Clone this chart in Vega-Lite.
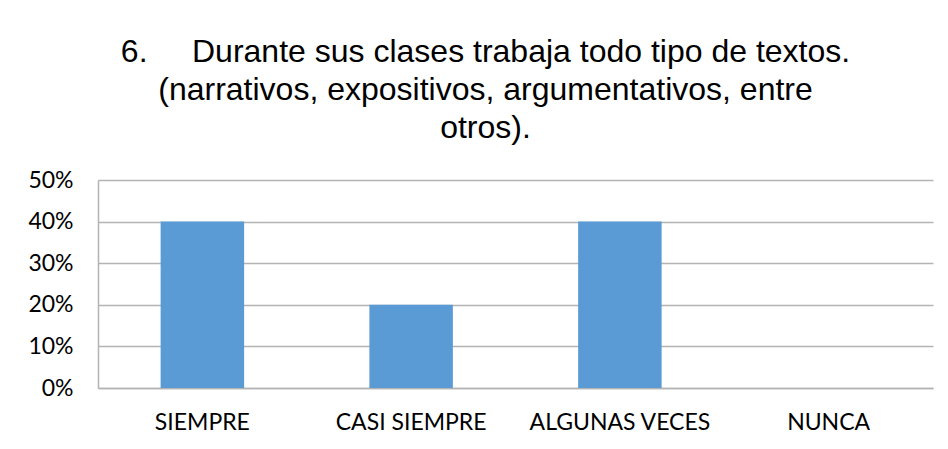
{
  "$schema": "https://vega.github.io/schema/vega-lite/v6.json",
  "autosize": "none",
  "width": 835,
  "height": 208,
  "padding": {"left": 98, "top": 180, "right": 15, "bottom": 61},
  "background": "white",
  "title": {
    "text": ["6.\u00a0\u00a0\u00a0\u00a0\u00a0Durante sus clases trabaja todo tipo de textos.", "(narrativos, expositivos, argumentativos, entre", "otros)."],
    "font": "Liberation Sans",
    "fontSize": 32,
    "fontWeight": "normal",
    "color": "#000000",
    "lineHeight": 38,
    "anchor": "middle",
    "frame": "group",
    "dx": -30,
    "offset": 24
  },
  "data": {
    "values": [
      {"categoria": "SIEMPRE", "porcentaje": 0.4},
      {"categoria": "CASI SIEMPRE", "porcentaje": 0.2},
      {"categoria": "ALGUNAS VECES", "porcentaje": 0.4},
      {"categoria": "NUNCA", "porcentaje": 0}
    ]
  },
  "mark": {"type": "bar", "color": "#5B9BD5"},
  "encoding": {
    "x": {
      "field": "categoria",
      "type": "nominal",
      "sort": null,
      "scale": {"paddingInner": 0.6, "paddingOuter": 0.3},
      "axis": {
        "title": null,
        "labelAngle": 0,
        "labelFont": "Lato",
        "labelFontSize": 23,
        "labelColor": "#000000",
        "labelPadding": 23,
        "labelLimit": 0,
        "ticks": false,
        "domainColor": "#B3B3B3",
        "domainWidth": 1.5,
        "grid": false
      }
    },
    "y": {
      "field": "porcentaje",
      "type": "quantitative",
      "scale": {"domain": [0, 0.5], "nice": false},
      "axis": {
        "title": null,
        "format": ".0%",
        "values": [0, 0.1, 0.2, 0.3, 0.4, 0.5],
        "labelFont": "Lato",
        "labelFontSize": 23,
        "labelColor": "#000000",
        "labelPadding": 25,
        "ticks": false,
        "domainColor": "#B3B3B3",
        "domainWidth": 1.5,
        "gridColor": "#B3B3B3",
        "gridWidth": 1.5
      }
    }
  },
  "config": {"view": {"stroke": null}}
}
